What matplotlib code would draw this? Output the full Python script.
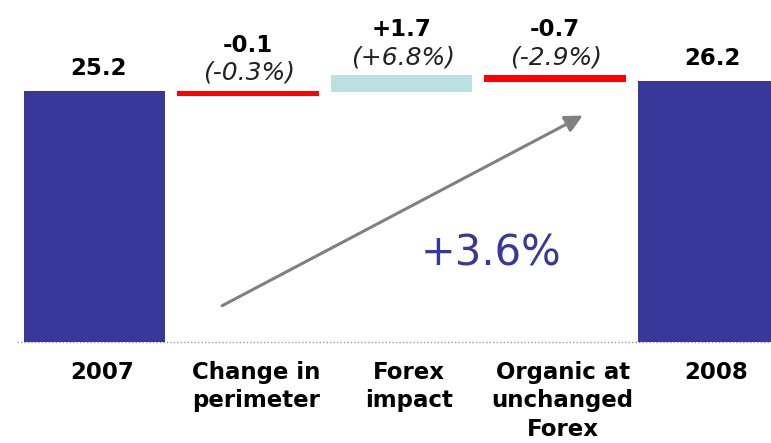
import matplotlib
matplotlib.use("Agg")
import matplotlib.pyplot as plt
import numpy as np

# sales bridge 2007 -> 2008
categories = ["2007", "Change in\nperimeter", "Forex\nimpact", "Organic at\nunchanged\nForex", "2008"]
start_value = 25.2
changes = [-0.1, 1.7, -0.7]
change_pct = ["(-0.3%)", "(+6.8%)", "(-2.9%)"]
end_value = 26.2
growth_label = "+3.6%"

navy = "#383898"
red = "#ff0000"
light_blue = "#bae0e2"

fig = plt.figure(figsize=(7.71, 4.43), dpi=100)
ax = fig.add_axes([0, 0, 1, 1])
ax.axis("off")
ax.set_xlim(-0.616, 4.407)
ax.set_ylim(-10.14, 34.34)

x = np.arange(len(categories))
width = 0.92

# dotted baseline
ax.plot([-0.505, 4.5], [0, 0], color="#9a9a9a", lw=1, linestyle=(0, (1, 1.5)), zorder=0)

# totals
ax.bar(x[0], start_value, width=width, color=navy, zorder=2)
ax.bar(x[-1], end_value, width=width, color=navy, zorder=2)
for xi, v in [(x[0], start_value), (x[-1], end_value)]:
    ax.annotate(f"{v:.1f}", (xi, v), xytext=(3, 16), textcoords="offset points",
                ha="center", va="center", fontsize=16.5, fontweight="bold")

# floating change bars
levels = start_value + np.cumsum(changes)
prev = np.concatenate([[start_value], levels[:-1]])
for i, (c, p, lvl, pct) in enumerate(zip(changes, prev, levels, change_pct)):
    top = max(p, lvl)
    height = abs(c)
    if height < 0.5:
        height = 0.5
    color = red if c < 0 else light_blue
    ax.bar(x[i + 1], height, bottom=top - height, width=width, color=color, zorder=2)
    ax.annotate(pct, (x[i + 1], top), xytext=(1, 13), textcoords="offset points",
                ha="center", va="center", fontsize=18, fontstyle="italic", color="#222222")
    ax.annotate(f"{c:+.1f}" if c > 0 else f"{c:.1f}", (x[i + 1], top), xytext=(0, 33),
                textcoords="offset points", ha="center", va="center",
                fontsize=16.5, fontweight="bold")

# category labels
for xi, lab in zip(x, categories):
    ax.text(xi + 0.05, -1.9, lab, ha="center", va="top", fontsize=16.5,
            fontweight="bold", linespacing=1.3)

# growth arrow
ax.annotate("", xy=(0.759, 0.742), xytext=(0.285, 0.307), xycoords="axes fraction",
            arrowprops=dict(arrowstyle="-|>", color="#808080", lw=2.2, mutation_scale=26))
ax.text(0.637, 0.427, growth_label, transform=ax.transAxes, ha="center", va="center",
        fontsize=30, color=navy)

fig.savefig("out.png", dpi=100)
